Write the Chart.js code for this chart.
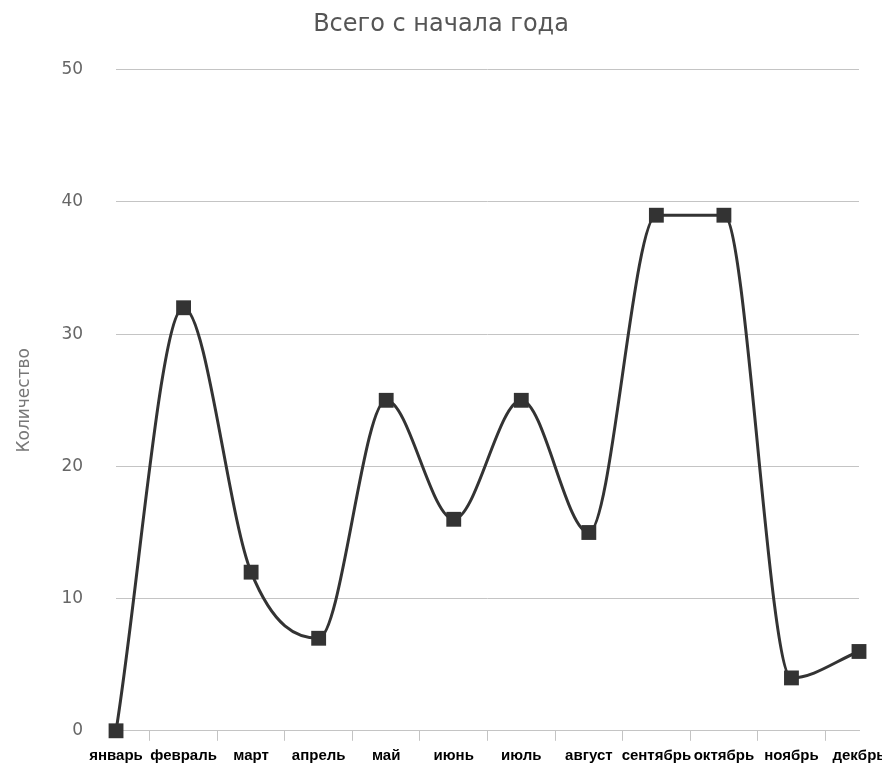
<!DOCTYPE html>
<html lang="ru">
<head>
<meta charset="utf-8">
<title>Всего с начала года</title>
<script src="https://cdn.jsdelivr.net/npm/chart.js@4/dist/chart.umd.min.js"></script>
<style>
  html, body { margin: 0; padding: 0; background: #ffffff; }
  #wrap { position: relative; width: 882px; height: 774px; }
</style>
</head>
<body>
<div id="wrap"><canvas id="chart"></canvas></div>
<script>
// Monthly totals since the start of the year
const months = ['январь', 'февраль', 'март', 'апрель', 'май', 'июнь',
                'июль', 'август', 'сентябрь', 'октябрь', 'ноябрь', 'декбрь'];
const counts = [0, 32, 12, 7, 25, 16, 25, 15, 39, 39, 4, 6];
const yTicks = [0, 10, 20, 30, 40, 50];

const chartTitle = 'Всего с начала года';
const yTitle = 'Количество';

const ink = '#333333';
const gridColor = '#c4c4c4';

new Chart(document.getElementById('chart'), {
  type: 'line',
  data: {
    labels: months,
    datasets: [{
      data: counts,
      borderColor: ink,
      borderWidth: 3,
      cubicInterpolationMode: 'monotone',
      pointStyle: 'rect',
      pointRadius: 10.5,
      pointHoverRadius: 10.5,
      pointBackgroundColor: ink,
      pointBorderWidth: 0,
      fill: false,
      clip: false
    }]
  },
  options: {
    responsive: true,
    maintainAspectRatio: false,
    animation: false,
    layout: { padding: { top: 0, left: 0, right: 0, bottom: 3 } },
    plugins: {
      legend: { display: false },
      tooltip: { enabled: false },
      title: {
        display: true,
        text: chartTitle,
        color: '#555555',
        font: { family: '"DejaVu Sans", sans-serif', size: 24, weight: 'normal' },
        padding: { top: 10, bottom: 31 }
      }
    },
    scales: {
      x: {
        offset: false,
        border: { display: true, color: gridColor, width: 1 },
        grid: {
          offset: true,
          drawOnChartArea: false,
          drawTicks: true,
          tickLength: 10,
          color: gridColor
        },
        ticks: {
          autoSkip: false,
          maxRotation: 0,
          padding: 6,
          color: '#000000',
          font: { family: '"Liberation Sans", Arial, sans-serif', size: 15, weight: 'bold' }
        },
        // let the last month label run into the right margin
        afterFit: (scale) => { scale.paddingRight = 23; }
      },
      y: {
        min: yTicks[0],
        max: yTicks[yTicks.length - 1],
        border: { display: false },
        grid: { color: gridColor, drawTicks: false },
        afterBuildTicks: (scale) => { scale.ticks = yTicks.map(v => ({ value: v })); },
        ticks: {
          padding: 33,
          color: '#666666',
          font: { family: '"DejaVu Sans", sans-serif', size: 17 }
        },
        title: {
          display: true,
          text: yTitle,
          color: '#777777',
          font: { family: '"DejaVu Sans", sans-serif', size: 17 },
          padding: { top: 14, bottom: -6 }
        }
      }
    }
  }
});
</script>
</body>
</html>
